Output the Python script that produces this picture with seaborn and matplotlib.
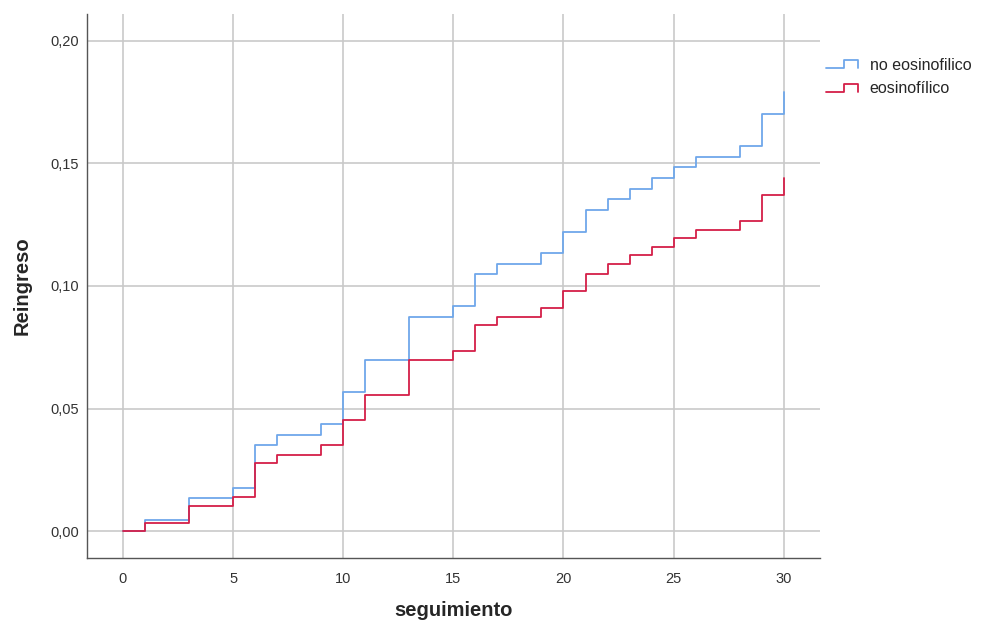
import pandas as pd
import matplotlib.pyplot as plt
import seaborn as sns
from matplotlib.lines import Line2D
from matplotlib.legend_handler import HandlerLine2D
from matplotlib.ticker import FuncFormatter

# cumulative readmission by follow-up time
tiempo = [0, 1, 3, 5, 6, 7, 9, 10, 11, 13, 15, 16, 17, 19, 20, 21, 22, 23, 24, 25, 26, 28, 29, 30, 30]
no_eosinofilico = [0.0, 0.0045, 0.0137, 0.0176, 0.035, 0.0392, 0.0437, 0.0567, 0.0698, 0.0873,
                   0.0918, 0.1049, 0.109, 0.1135, 0.122, 0.131, 0.1355, 0.1396, 0.144, 0.1486,
                   0.1527, 0.157, 0.170, 0.170, 0.179]
eosinofilico = [0.0, 0.0033, 0.0102, 0.0139, 0.0278, 0.031, 0.035, 0.0453, 0.0555, 0.0698,
                0.0735, 0.084, 0.0873, 0.091, 0.098, 0.105, 0.109, 0.1127, 0.116, 0.1196,
                0.123, 0.1265, 0.137, 0.137, 0.144]
grupos = ["no eosinofilico", "eosinofílico"]
colores = ["#6fa7ea", "#d41f48"]

df = pd.concat([
    pd.DataFrame({"seguimiento": tiempo, "Reingreso": no_eosinofilico, "grupo": grupos[0]}),
    pd.DataFrame({"seguimiento": tiempo, "Reingreso": eosinofilico, "grupo": grupos[1]}),
])

sns.set_style("white")
plt.rcParams['font.family'] = ['Liberation Sans', 'DejaVu Sans']

fig = plt.figure(figsize=(9.89, 6.25), dpi=100)
ax = fig.add_axes([0.088, 0.107, 0.741, 0.871])

sns.lineplot(data=df, x="seguimiento", y="Reingreso", hue="grupo", hue_order=grupos,
             palette=colores, estimator=None, sort=False, drawstyle="steps-post",
             linewidth=1.3, legend=False, ax=ax)

ax.set_xlim(-1.63, 31.64)
ax.set_ylim(-0.011, 0.211)
ax.set_xticks([0, 5, 10, 15, 20, 25, 30])
ax.set_yticks([0.0, 0.05, 0.10, 0.15, 0.20])
ax.yaxis.set_major_formatter(FuncFormatter(lambda v, p: f"{v:.2f}".replace(".", ",")))
ax.grid(True, color="#c9c9c9", linewidth=1.2)
ax.set_axisbelow(True)
ax.tick_params(axis="y", length=0, labelsize=10.5, labelcolor="#333333", pad=6)
ax.tick_params(axis="x", length=0, labelsize=10.5, labelcolor="#333333", pad=10)

for side in ["top", "right"]:
    ax.spines[side].set_visible(False)
for side in ["left", "bottom"]:
    ax.spines[side].set_color("#555555")
    ax.spines[side].set_linewidth(1.0)

ax.set_xlabel("seguimiento", fontsize=14.5, fontweight="bold")
ax.set_ylabel("Reingreso", fontsize=14.5, fontweight="bold")
ax.xaxis.set_label_coords(0.5, -0.096)
ax.yaxis.set_label_coords(-0.089, 0.5)
ax.xaxis.label.set_va("center")
ax.yaxis.label.set_va("center")


class StepHandler(HandlerLine2D):
    def create_artists(self, legend, orig_handle, xdescent, ydescent, width, height, fontsize, trans):
        x0, x1 = -xdescent, -xdescent + width
        yb, yt = -ydescent + height * 0.15, -ydescent + height * 0.85
        xm = x0 + width * 0.55
        line = Line2D([x0, xm, xm, x1, x1], [yb, yb, yt, yt, yb],
                      color=orig_handle.get_color(), linewidth=1.3)
        line.set_transform(trans)
        return [line]


handles = [Line2D([], [], color=c) for c in colores]
ax.legend(handles, grupos, loc="upper left", bbox_to_anchor=(0.993, 0.94), frameon=False,
          fontsize=11.5, handlelength=2.0, handletextpad=0.75, labelspacing=0.55,
          borderaxespad=0.3, handler_map={Line2D: StepHandler()})

fig.savefig("out.png", dpi=100)
